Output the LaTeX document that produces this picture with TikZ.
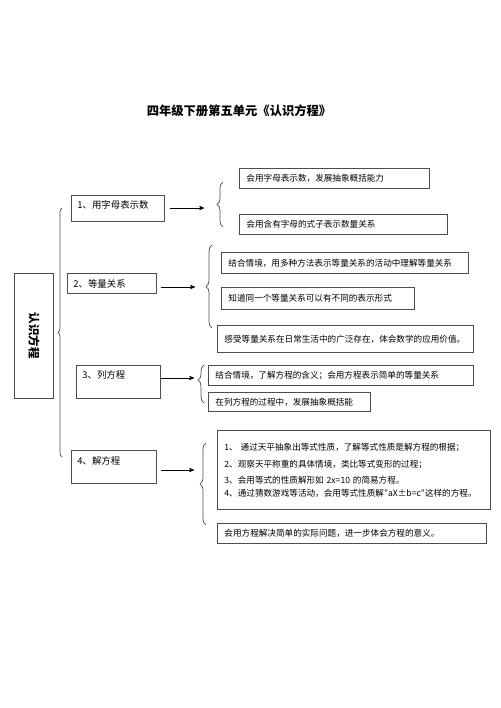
\documentclass[tikz,border=0pt]{standalone}
\usepackage{fontspec}
\setmainfont{Noto Sans CJK SC}
\usepackage{graphicx}
\usetikzlibrary{arrows}
\usetikzlibrary{decorations.pathreplacing}

\begin{document}
\begin{tikzpicture}[x=1pt, y=-1pt,
  box/.style={draw=black!70, line width=.9pt, anchor=north west, inner xsep=7pt, inner ysep=0pt, align=left, font=\fontsize{8.6}{16}\selectfont},
  topic/.style={draw=black!70, line width=.9pt, anchor=north west, inner xsep=6pt, inner ysep=0pt, align=left, font=\fontsize{9.4}{11}\selectfont},
  brc/.style={draw=black!70, line width=.7pt, decorate, decoration={brace, amplitude=6pt}},
  arr/.style={->, >=stealth', black, line width=.7pt}]
\useasboundingbox (0,0) rectangle (500,708);
\node[font=\fontsize{12.3}{14}\selectfont\bfseries] (title) at (239,111) {四年级下册第五单元《认识方程》};
% root and topics
\node[draw=black!70, line width=.9pt, anchor=north west, minimum width=39pt, minimum height=125pt, font=\fontsize{11.5}{12}\selectfont\bfseries] (root) at (14,273) {\rotatebox{-90}{认识方程}};
\draw[brc, decoration={amplitude=4pt}] (62,457) -- (62,208);
\node[topic, text width=81pt, minimum height=26pt, text height=7pt, text depth=7.8pt] (t1) at (71,195) {1、用字母表示数};
\node[topic, text width=77pt, minimum height=20pt] (t2) at (67,273) {2、等量关系};
\node[topic, text width=72pt, minimum height=33pt, text height=7pt, text depth=14.8pt] (t3) at (76,365) {3、列方程};
\node[topic, text width=73pt, minimum height=33pt, text height=7pt, text depth=12.8pt] (t4) at (71,450) {4、解方程};
% braces
\draw[brc] (223,227) -- (223,182);
\draw[brc] (212,328) -- (212,245);
\draw[brc, decoration={aspect=.6}] (204,403) -- (204,365);
\draw[brc] (206,525) -- (206,443);
\coordinate (b1) at (217,208);
\coordinate (b2) at (205,287);
\coordinate (b3) at (198,378);
\coordinate (b4) at (200,470);
\draw[arr, shorten <=5pt, shorten >=13pt] (t1.east |- b1) -- (b1);
\draw[arr, shorten <=4pt, shorten >=10pt] (t2.east |- b2) -- (b2);
\draw[arr, shorten >=4pt] (t3.east |- b3) -- (b3);
\draw[arr, shorten <=4pt, shorten >=6pt] (t4.east |- b4) -- (b4);
% goals
\foreach \n/\x/\y/\w/\h/\t [evaluate=\w as \tw using \w-14] in {
  c11/239/168/190/20/{会用字母表示数，发展抽象概括能力},
  c12/239/214/208/20/{会用含有字母的式子表示数量关系},
  c21/221/252/247/21/{结合情境，用多种方法表示等量关系的活动中理解等量关系},
  c22/221/287/193/22/{知道同一个等量关系可以有不同的表示形式},
  c23/217/325/256/27/{感受等量关系在日常生活中的广泛存在，体会数学的应用价值。},
  c31/208/365/265/20/{结合情境，了解方程的含义；会用方程表示简单的等量关系},
  c32/208/392/162/19/{在列方程的过程中，发展抽象概括能},
  c41/217/430/273/79/{1、~通过天平抽象出等式性质，了解等式性质是解方程的根据；\\[1pt]2、观察天平称重的具体情境，类比等式变形的过程；\\3、会用等式的性质解形如~2x=10~的简易方程。\\[-3pt]4、通过猜数游戏等活动，会用等式性质解″aX±b=c″这样的方程。},
  c42/217/523/269/20/{会用方程解决简单的实际问题，进一步体会方程的意义。}}
  \node[box, text width=\tw pt, minimum width=\w pt, minimum height=\h pt] (\n) at (\x,\y) {\t};
\end{tikzpicture}
\end{document}
